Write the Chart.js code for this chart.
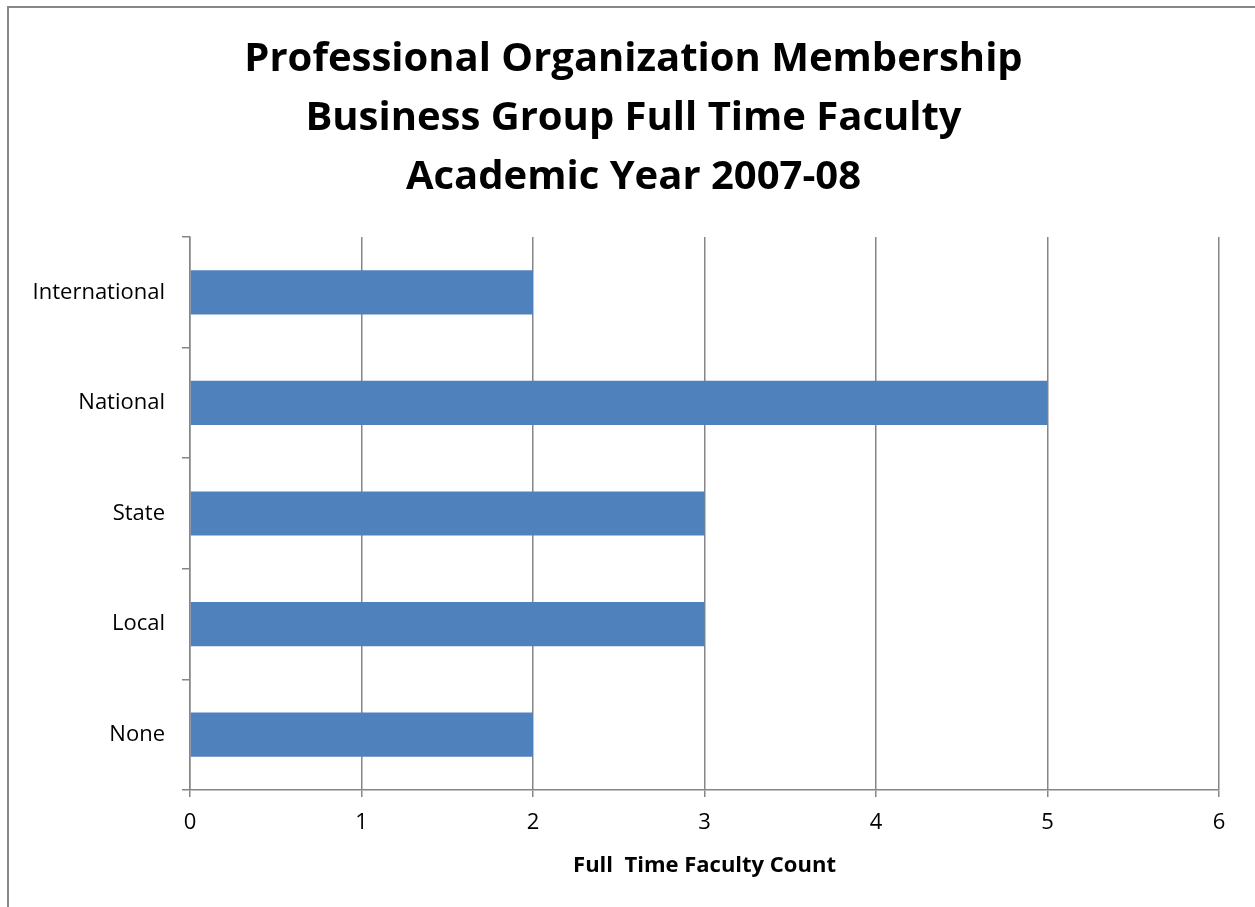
<!DOCTYPE html>
<html>
<head>
<meta charset="utf-8">
<script src="https://cdn.jsdelivr.net/npm/chart.js@4"></script>
<style>
  html, body { margin: 0; padding: 0; overflow: hidden; background: #fff; }
  #frame { position: absolute; left: 7px; top: 6px; width: 2000px; height: 2000px;
           border-left: 2px solid #878787; border-top: 2px solid #878787; }
  #chart { position: absolute; left: 0; top: 0; }
</style>
</head>
<body>
<div id="frame"></div>
<canvas id="chart" width="1255" height="907"></canvas>
<script>
const categories = ['International', 'National', 'State', 'Local', 'None'];
const facultyCounts = [2, 5, 3, 3, 2];
const titleLines = ['Professional Organization Membership', 'Business Group Full Time Faculty', 'Academic Year 2007-08'];
const axisTitle = 'Full  Time Faculty Count';

const gridGray = '#868686';
const fontFamily = '"Open Sans", Lato, sans-serif';

// the title in the original sits a bit right of the canvas centre
const titleShift = {
  id: 'titleShift',
  afterLayout(chart) {
    if (chart.titleBlock) chart.titleBlock.left += 48;
  }
};

new Chart(document.getElementById('chart'), {
  type: 'bar',
  data: {
    labels: categories,
    datasets: [{
      data: facultyCounts,
      backgroundColor: '#4F81BD',
      borderWidth: 0,
      barPercentage: 0.4,
      categoryPercentage: 1,
    }]
  },
  plugins: [titleShift],
  options: {
    indexAxis: 'y',
    responsive: false,
    animation: false,
    devicePixelRatio: 1,
    layout: { padding: { top: 30, right: 36, bottom: 0, left: 0 } },
    plugins: {
      legend: { display: false },
      tooltip: { enabled: false },
      title: {
        display: true,
        text: titleLines,
        color: '#000',
        font: { family: fontFamily, size: 40, weight: 'bold', lineHeight: 1.475 },
        padding: { top: 0, bottom: 30 },
      },
    },
    scales: {
      x: {
        min: 0,
        max: 6,
        ticks: { stepSize: 1, color: '#000', padding: 13, font: { family: fontFamily, size: 22 } },
        grid: { color: gridGray, lineWidth: 1.5, tickLength: 7 },
        border: { color: gridGray, width: 1.5 },
        title: {
          display: true,
          text: axisTitle,
          color: '#000',
          font: { family: fontFamily, size: 22, weight: 'bold' },
          padding: { top: 0, bottom: 28 },
        },
        afterFit: (scale) => { scale.height = 117; },
      },
      y: {
        ticks: { color: '#000', padding: 17, font: { family: fontFamily, size: 22 } },
        grid: { drawOnChartArea: false, color: gridGray, lineWidth: 1.5, tickLength: 8 },
        border: { color: gridGray, width: 1.5 },
        afterFit: (scale) => { scale.width = 190; },
      },
    },
  },
});
</script>
</body>
</html>
